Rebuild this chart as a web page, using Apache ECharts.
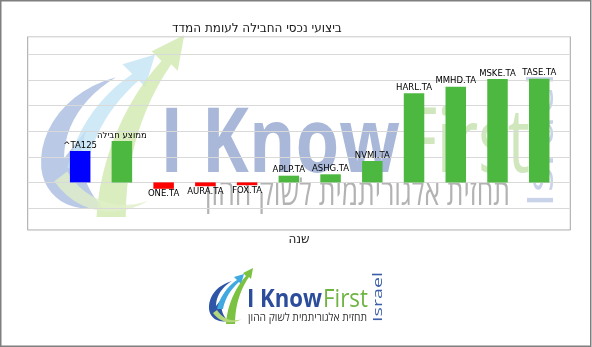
<!DOCTYPE html>
<html><head><meta charset="utf-8">
<script src="https://cdn.jsdelivr.net/npm/echarts@6/dist/echarts.min.js"></script>
<style>html,body{margin:0;padding:0;background:#fff}#c{width:592px;height:347px}</style>
</head><body><div id="c"></div>
<script>
// ---- data ----
const categories = ['^TA125', 'ממוצע חבילה', 'ONE.TA', 'AURA.TA', 'FOX.TA', 'APLP.TA', 'ASHG.TA', 'NVMI.TA', 'HARL.TA', 'MMHD.TA', 'MSKE.TA', 'TASE.TA'];
const performance = [6.13, 8.09, -1.25, -0.75, -0.55, 1.31, 1.58, 4.18, 17.4, 18.69, 20.2, 20.25];
const axisMin = -9.3;
const axisMax = 28.46;
const titleText = 'ביצועי נכסי החבילה לעומת המדד';
const xAxisName = 'שנה';
const logoWords = ['I Know', 'First', 'Israel'];
const logoTagline = 'תחזית אלגוריתמית לשוק ההון';

// ---- helpers ----
const mctx = document.createElement('canvas').getContext('2d');
function fitScale(text, font, width) {
  mctx.font = font;
  return width / mctx.measureText(text).width;
}
function textEl(text, font, color, left, width, cy, sy) {
  const s = fitScale(text, font, width);
  return {
    type: 'text', x: left, y: cy, scaleX: s, scaleY: sy || 1,
    style: { text: text, font: font, fill: color, align: 'left', verticalAlign: 'middle' }
  };
}
function vertText(text, font, color, cx, cy, length) {
  const s = fitScale(text, font, length);
  return {
    type: 'group', x: cx, y: cy, rotation: Math.PI / 2,
    children: [{ type: 'text', x: 0, y: 0, scaleX: s,
      style: { text: text, font: font, fill: color, align: 'center', verticalAlign: 'middle' } }]
  };
}
// sample a simple M/L/C/Z path into polygon points
function pathPoints(d) {
  const tok = d.match(/[MLCZ]|-?[\d.]+/g);
  const pts = []; let i = 0, cmd = null, cur = [0, 0];
  while (i < tok.length) {
    if (/[MLCZ]/.test(tok[i])) { cmd = tok[i++]; if (cmd === 'Z') continue; }
    if (cmd === 'M' || cmd === 'L') {
      cur = [+tok[i], +tok[i + 1]]; i += 2; pts.push(cur.slice());
    } else if (cmd === 'C') {
      const p1 = [+tok[i], +tok[i + 1]], p2 = [+tok[i + 2], +tok[i + 3]], p3 = [+tok[i + 4], +tok[i + 5]];
      i += 6;
      for (let k = 1; k <= 12; k++) {
        const t = k / 12, u = 1 - t;
        pts.push([
          u * u * u * cur[0] + 3 * u * u * t * p1[0] + 3 * u * t * t * p2[0] + t * t * t * p3[0],
          u * u * u * cur[1] + 3 * u * u * t * p1[1] + 3 * u * t * t * p2[1] + t * t * t * p3[1]
        ]);
      }
      cur = p3;
    } else { i++; }
  }
  return pts;
}
function icon(x, y, sc, colors, opacity) {
  const paths = [
    'M24 13 C9 17 0 29 1 41 C2 50 10 55 20 53 C13 46 12 37 15 29 L8 38 C8 28 14 19 24 13 Z',
    'M9 41 C12 28 20 18 29 12 L26 9 L36 6 L33 16 L31 14 C23 21 17 30 15 41 Z',
    'M18 56 C19 38 27 20 38 8 L35 5 L45 0 L43 11 L41 9 C32 22 27 38 27 56 Z',
    'M5 45 C12 55 24 57 34 51 C26 54 15 52 9 42 Z'
  ];
  return {
    type: 'group', x: x, y: y, scaleX: sc, scaleY: sc,
    children: paths.map((p, i) => ({ type: 'polygon', shape: { points: pathPoints(p) },
      style: { fill: colors[i], opacity: opacity } }))
  };
}
function setZ(el, z) {
  el.z = z;
  if (el.children) el.children.forEach(c => setZ(c, z));
  return el;
}

const BLUE = '#0000ff', GREEN = '#4db840', RED = '#ff0000';
const barData = performance.map((v, i) => ({
  value: v,
  itemStyle: { color: i === 0 ? BLUE : (v < 0 ? RED : GREEN) },
  label: { position: v < 0 ? 'bottom' : 'top' }
}));

const wmFont = '700 90px "Open Sans"';
const wmFont2 = '400 90px "Open Sans"';
const watermark = setZ({ type: 'group', children: [
  icon(38, 35, 3.25, ['#a9bbdf', '#c3e3f5', '#cfe8ae', '#e0efc8'], 0.8),
  textEl(logoWords[0], wmFont, '#a9b8d9', 160, 240, 146),
  textEl(logoWords[1], wmFont2, '#d0e7be', 405, 125, 146),
  textEl(logoTagline, '400 36px "Open Sans", "DejaVu Sans"', '#b3b3b3', 205, 305, 195),
  vertText(logoWords[2], '400 36px "Open Sans"', '#c8d2e8', 543, 140, 135)
]}, -10);

const graphic = [
  // outer frame
  { type: 'rect', z: 100, shape: { x: 0.75, y: 0.75, width: 590, height: 345.5 },
    style: { fill: null, stroke: '#7f7f7f', lineWidth: 1.5 } },
  watermark,
  // bottom logo
  icon(208, 268, 1, ['#2f56a6', '#3fa9e0', '#7cc242', '#b3d77a'], 1),
  textEl(logoWords[0], '700 25px "Open Sans"', '#2c4d9b', 247, 75, 300),
  textEl(logoWords[1], '400 25px "Open Sans"', '#6fb443', 323, 45, 300),
  textEl(logoTagline, '400 11px "Open Sans", "DejaVu Sans"', '#333333', 248, 119, 317.5),
  vertText(logoWords[2], '400 13px "Open Sans"', '#3b5ea8', 378.5, 297, 50)
];

const chart = echarts.init(document.getElementById('c'));
chart.setOption({
  animation: false,
  backgroundColor: '#ffffff',
  title: { text: titleText, left: 167, top: 18,
    textStyle: { fontSize: 12, fontWeight: 'normal', color: '#1a1a1a', fontFamily: 'DejaVu Sans' } },
  graphic: graphic,
  grid: [
    { left: 27.7, right: 21.7, top: 36.7, bottom: 117, show: true, borderColor: '#a6a6a6', borderWidth: 1, backgroundColor: 'transparent' },
    { left: 59.3, right: 31.9, top: 36.7, bottom: 117 }
  ],
  xAxis: [
    { type: 'value', gridIndex: 0, min: 0, max: 1, name: xAxisName, nameLocation: 'middle', nameGap: 4,
      nameTextStyle: { fontSize: 12, color: '#1a1a1a', fontFamily: 'DejaVu Sans' },
      axisLine: { show: false }, axisTick: { show: false }, axisLabel: { show: false }, splitLine: { show: false } },
    { type: 'category', gridIndex: 1, data: categories, show: false }
  ],
  yAxis: [
    { type: 'value', gridIndex: 0, min: axisMin, max: axisMax, splitNumber: 7, minInterval: 5, maxInterval: 5,
      axisLine: { show: false }, axisTick: { show: false }, axisLabel: { show: false },
      splitLine: { show: true, lineStyle: { color: '#d9d9d9', width: 1 } } },
    { type: 'value', gridIndex: 1, min: axisMin, max: axisMax, show: false, splitLine: { show: false } }
  ],
  series: [{
    type: 'bar', xAxisIndex: 1, yAxisIndex: 1, barWidth: 20.5, z: 5,
    data: barData,
    label: { show: true, formatter: '{b}', distance: 1, fontSize: 8.5, color: '#000', fontFamily: 'DejaVu Sans' }
  }]
});
</script></body></html>
